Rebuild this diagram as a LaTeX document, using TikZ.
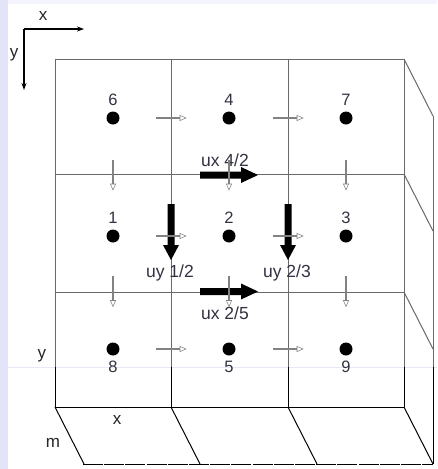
\documentclass[tikz,border=0pt]{standalone}
\usepackage{fontspec}
\setmainfont{Liberation Sans}
\usetikzlibrary{arrows.meta}
\definecolor{lav}{RGB}{228,228,248}
\definecolor{lavlight}{RGB}{244,244,252}
\definecolor{seam}{RGB}{230,234,248}
\definecolor{gridgray}{RGB}{105,105,105}
\definecolor{smallgray}{RGB}{130,130,130}
\definecolor{labtext}{RGB}{50,50,66}
\tikzset{
  gridline/.style={draw=gridgray, line width=1pt},
  blackline/.style={draw=black, line width=1pt},
  dot/.style={circle, fill=black, inner sep=0pt, minimum size=13pt},
  numlabel/.style={font=\fontsize{16.5}{16.5}\selectfont, text=labtext, inner sep=0pt},
  ulabel/.style={font=\fontsize{17.5}{18}\selectfont, text=labtext, inner sep=0pt},
  axlabel/.style={font=\fontsize{17}{17}\selectfont, text=black!85, inner sep=0pt},
  bigarrow/.style={fill=black},
  harr/.pic={
    \draw[smallgray, fill=white, line width=0.55pt] (-15,-0.7) rectangle (9,0.7);
    \draw[smallgray, fill=white, line width=0.55pt] (9,-2.6) -- (15,0) -- (9,2.6) -- cycle;
  },
  varr/.pic={
    \draw[smallgray, fill=white, line width=0.55pt] (-0.7,-15) rectangle (0.7,9);
    \draw[smallgray, fill=white, line width=0.55pt] (-2.6,9) -- (0,15) -- (2.6,9) -- cycle;
  }
}
\begin{document}
\begin{tikzpicture}[x=1pt,y=-1pt]
\path[use as bounding box] (0,0) rectangle (437,469);
% background
\fill[white] (0,0) rectangle (437,469);
\fill[lav] (0,0) rectangle (8,469);
\fill[lavlight] (8,0) rectangle (437,4);
\draw[seam, line width=1pt] (8,367) -- (437,367);

% axes
\coordinate (o) at (24,29);
\coordinate (ax) at (84,29);
\coordinate (ay) at (24,90);
\draw[line width=1.3pt, -{Stealth[length=7pt,width=5pt]}] (o) -- (ax);
\draw[line width=1.3pt, -{Stealth[length=7pt,width=5pt]}] (o) -- (ay);
\node[axlabel] (lx) at (43,16) {x};
\node[axlabel] (ly) at (14,55) {y};

% upper grid (gray)
\foreach \yy in {59,174,292} {
  \draw[gridline] (55,\yy) -- (404,\yy);
  \draw[gridline] (404,\yy) -- (433,\yy+57);
}
\foreach \xx in {55,171,288,404} {
  \draw[gridline] (\xx,59) -- (\xx,367);
}
\draw[gridline] (433,116) -- (433,367);

% lower part (black)
\foreach \xx in {55,171,288,404} {
  \draw[blackline] (\xx,367) -- (\xx,407);
  \draw[blackline] (\xx,407) -- (\xx+29,464);
}
\draw[blackline] (433,367) -- (433,464);
\draw[blackline] (55,407) -- (404,407);
\draw[blackline, dash pattern=on 20pt off 1.2pt] (83,464) -- (433,464);

\node[axlabel] (by) at (42,356) {y};
\node[axlabel] (bx) at (117,420) {x};
\node[axlabel] (bm) at (53,443) {m};

% dots and labels
\node[dot] (d6) at (113,118) {};
\node[dot] (d4) at (229,118) {};
\node[dot] (d7) at (346,118) {};
\node[dot] (d1) at (113,236) {};
\node[dot] (d2) at (229,236) {};
\node[dot] (d3) at (346,236) {};
\node[dot] (d8) at (113,349) {};
\node[dot] (d5) at (229,349) {};
\node[dot] (d9) at (346,349) {};
\node[numlabel] (l6) at (113,100) {6};
\node[numlabel] (l4) at (229,100) {4};
\node[numlabel] (l7) at (346,100) {7};
\node[numlabel] (l1) at (113,218) {1};
\node[numlabel] (l2) at (229,218) {2};
\node[numlabel] (l3) at (346,218) {3};
\node[numlabel] (l8) at (113,367) {8};
\node[numlabel] (l5) at (229,367) {5};
\node[numlabel] (l9) at (346,367) {9};

% big arrows
\fill[bigarrow] (200,171.5) -- (241,171.5) -- (241,167) -- (258,175) -- (241,183) -- (241,178.5) -- (200,178.5) -- cycle;
\fill[bigarrow] (200,288) -- (241,288) -- (241,283.5) -- (258,291.5) -- (241,299.5) -- (241,295) -- (200,295) -- cycle;
\fill[bigarrow] (167.5,204) -- (174.5,204) -- (174.5,245) -- (179,245) -- (171,260) -- (163,245) -- (167.5,245) -- cycle;
\fill[bigarrow] (284.5,204) -- (291.5,204) -- (291.5,245) -- (296,245) -- (288,260) -- (280,245) -- (284.5,245) -- cycle;

\node[ulabel] (ux42) at (225,160) {ux 4/2};
\node[ulabel] (uy12) at (170,273) {uy 1/2};
\node[ulabel] (uy23) at (287,273) {uy 2/3};
\node[ulabel] (ux25) at (225,313) {ux 2/5};

% small arrows
\foreach \yy in {118,236,349} {
  \pic at (171,\yy) {harr};
  \pic at (288,\yy) {harr};
}
\foreach \xx in {113,229,346} {
  \pic at (\xx,175) {varr};
  \pic at (\xx,291.5) {varr};
}
\end{tikzpicture}
\end{document}
